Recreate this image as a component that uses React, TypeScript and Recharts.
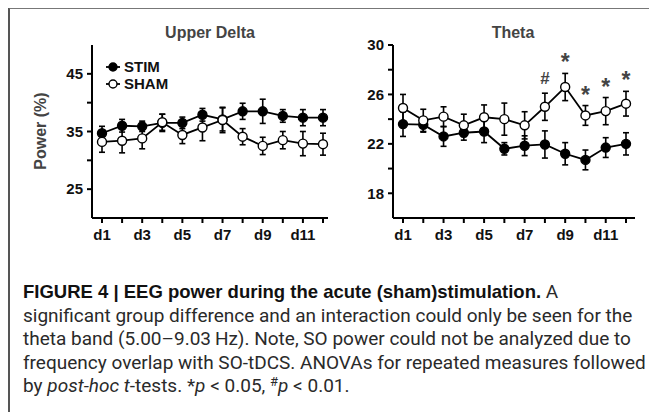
import { LineChart, Line, XAxis, YAxis, ErrorBar, LabelList } from 'recharts';

const days = ['d1', 'd2', 'd3', 'd4', 'd5', 'd6', 'd7', 'd8', 'd9', 'd10', 'd11', 'd12'];

// Upper Delta (power %)
const deltaStim = [34.7, 36.0, 35.9, 36.5, 36.5, 37.9, 37.1, 38.5, 38.5, 37.7, 37.4, 37.4];
const deltaStimErr = [1.2, 1.1, 0.9, 1.5, 1.0, 1.1, 2.0, 1.4, 2.1, 1.1, 1.4, 1.4];
const deltaSham = [33.2, 33.4, 33.8, 36.6, 34.4, 35.7, 37.0, 34.1, 32.5, 33.5, 32.9, 32.8];
const deltaShamErr = [1.8, 2.1, 1.8, 1.4, 1.5, 2.3, 2.2, 1.4, 1.5, 1.5, 2.1, 1.9];

// Theta (power %)
const thetaStim = [23.6, 23.55, 22.6, 22.9, 23.0, 21.6, 21.85, 21.95, 21.2, 20.7, 21.7, 22.0];
const thetaStimErr = [1.0, 0.6, 0.8, 0.6, 0.9, 0.5, 0.8, 1.1, 0.9, 0.8, 0.8, 0.9];
const thetaSham = [24.9, 23.9, 24.2, 23.5, 24.15, 24.0, 23.5, 25.0, 26.6, 24.3, 24.65, 25.25];
const thetaShamErr = [1.1, 0.9, 0.8, 0.9, 1.0, 1.3, 1.1, 1.1, 1.1, 0.8, 1.1, 1.0];
const thetaSig = ['', '', '', '', '', '', '', '#', '*', '*', '*', '*'];

const deltaData = days.map((d, i) => ({
  day: d,
  stim: deltaStim[i],
  stimErr: deltaStimErr[i],
  sham: deltaSham[i],
  shamErr: deltaShamErr[i],
}));

const thetaData = days.map((d, i) => ({
  day: d,
  stim: thetaStim[i],
  stimErr: thetaStimErr[i],
  sham: thetaSham[i],
  shamErr: thetaShamErr[i],
  sigTop: thetaSig[i] ? thetaSham[i] + thetaShamErr[i] : null,
  sig: thetaSig[i],
}));

const FONT = 'Arial, "Liberation Sans", Helvetica, sans-serif';
const CAPTION_FONT = 'Roboto, "Liberation Sans", sans-serif';
const oddOnly = (v: string, i: number) => (i % 2 === 0 ? v : '');
const tickStyle = { fontFamily: FONT, fontWeight: 700, fontSize: 15, fill: '#111' };
const axisLine = { stroke: '#000', strokeWidth: 2 };
const tickLine = { stroke: '#000', strokeWidth: 2 };

const SigLabel = (props: any) => {
  const { x, y, value } = props;
  if (!value || y == null) return null;
  const star = value === '*';
  return (
    <text
      x={x}
      y={star ? y - 3 : y - 9}
      textAnchor="middle"
      fontFamily={FONT}
      fontWeight={700}
      fontSize={star ? 23 : 17}
      fill="#444"
    >
      {value}
    </text>
  );
};

const titleStyle: React.CSSProperties = {
  position: 'absolute',
  fontFamily: FONT,
  fontWeight: 700,
  fontSize: 16,
  color: '#444',
  transform: 'translateX(-50%)',
  whiteSpace: 'nowrap',
};

const captionLine: React.CSSProperties = {
  whiteSpace: 'nowrap',
  height: 23.6,
  lineHeight: '23.6px',
};

function LegendItem({ filled, label, top }: { filled: boolean; label: string; top: number }) {
  return (
    <div style={{ position: 'absolute', left: 97, top, display: 'flex', alignItems: 'center' }}>
      <svg width={16} height={12}>
        <line x1={1} y1={6} x2={15} y2={6} stroke="#000" strokeWidth={1.8} />
        <circle cx={8} cy={6} r={4} fill={filled ? '#000' : '#fff'} stroke="#000" strokeWidth={1.4} />
      </svg>
      <span style={{ marginLeft: 3, fontFamily: FONT, fontWeight: 700, fontSize: 15, color: '#111' }}>{label}</span>
    </div>
  );
}

export default function App() {
  return (
    <div style={{ position: 'relative', width: 649, height: 404, overflow: 'hidden' }}>
      <div
        style={{
          position: 'absolute',
          left: 0,
          top: -1,
          width: 660,
          height: 420,
          borderLeft: '2px solid #555',
          borderTop: '2px solid #777',
          boxSizing: 'border-box',
        }}
      />
      <div style={{ ...titleStyle, left: 202, top: 16 }}>Upper Delta</div>
      <div style={{ ...titleStyle, left: 505, top: 16 }}>Theta</div>
      <div
        style={{
          position: 'absolute',
          left: 33,
          top: 123,
          transform: 'translate(-50%, -50%) rotate(-90deg)',
          fontFamily: FONT,
          fontWeight: 700,
          fontSize: 16,
          color: '#444',
          whiteSpace: 'nowrap',
        }}
      >
        Power (%)
      </div>

      <div style={{ position: 'absolute', left: 0, top: 0 }}>
        <LineChart width={340} height={260} data={deltaData} margin={{ top: 37, right: 20, bottom: 20, left: 0 }}>
          <XAxis
            dataKey="day"
            interval={0}
            tickFormatter={oddOnly}
            padding={{ left: 10, right: 5 }}
            tick={tickStyle}
            tickSize={5}
            tickMargin={6}
            axisLine={axisLine}
            tickLine={tickLine}
            height={30}
          />
          <YAxis
            type="number"
            domain={[20, 50]}
            ticks={[25, 30, 35, 40, 45]}
            tickFormatter={(v: number) => (v % 10 === 5 ? String(v) : '')}
            tick={tickStyle}
            tickSize={5}
            tickMargin={4}
            axisLine={axisLine}
            tickLine={tickLine}
            width={84}
          />
          <Line
            dataKey="stim"
            stroke="#000"
            strokeWidth={1.8}
            dot={{ r: 4.5, fill: '#000', stroke: '#000', strokeWidth: 1.4 }}
            isAnimationActive={false}
          >
            <ErrorBar dataKey="stimErr" width={3} stroke="#000" strokeWidth={1.6} />
          </Line>
          <Line
            dataKey="sham"
            stroke="#000"
            strokeWidth={1.8}
            dot={{ r: 4.5, fill: '#fff', stroke: '#000', strokeWidth: 1.4 }}
            isAnimationActive={false}
          >
            <ErrorBar dataKey="shamErr" width={3} stroke="#000" strokeWidth={1.6} />
          </Line>
        </LineChart>
      </div>

      <LegendItem filled label="STIM" top={50} />
      <LegendItem filled={false} label="SHAM" top={67} />

      <div style={{ position: 'absolute', left: 330, top: 0 }}>
        <LineChart width={320} height={260} data={thetaData} margin={{ top: 37, right: 23, bottom: 20, left: 0 }}>
          <XAxis
            dataKey="day"
            interval={0}
            tickFormatter={oddOnly}
            padding={{ left: 10, right: 9 }}
            tick={tickStyle}
            tickSize={5}
            tickMargin={6}
            axisLine={axisLine}
            tickLine={tickLine}
            height={30}
          />
          <YAxis
            type="number"
            domain={[16, 30]}
            ticks={[18, 20, 22, 24, 26, 28, 30]}
            tickFormatter={(v: number) => (v % 4 === 2 ? String(v) : '')}
            tick={tickStyle}
            tickSize={5}
            tickMargin={4}
            axisLine={axisLine}
            tickLine={tickLine}
            width={55}
          />
          <Line
            dataKey="stim"
            stroke="#000"
            strokeWidth={1.8}
            dot={{ r: 4.5, fill: '#000', stroke: '#000', strokeWidth: 1.4 }}
            isAnimationActive={false}
          >
            <ErrorBar dataKey="stimErr" width={3} stroke="#000" strokeWidth={1.6} />
          </Line>
          <Line
            dataKey="sham"
            stroke="#000"
            strokeWidth={1.8}
            dot={{ r: 4.5, fill: '#fff', stroke: '#000', strokeWidth: 1.4 }}
            isAnimationActive={false}
          >
            <ErrorBar dataKey="shamErr" width={3} stroke="#000" strokeWidth={1.6} />
          </Line>
          <Line
            dataKey="sigTop"
            stroke="none"
            dot={false}
            activeDot={false}
            connectNulls={false}
            isAnimationActive={false}
          >
            <LabelList dataKey="sig" content={<SigLabel />} />
          </Line>
        </LineChart>
      </div>

      <div
        style={{
          position: 'absolute',
          left: 15,
          top: 272,
          fontFamily: CAPTION_FONT,
          fontSize: 19,
          color: '#2a2a2a',
        }}
      >
        <div style={captionLine}>
          <b style={{ fontFamily: '"Liberation Sans", Arial, sans-serif', fontSize: 18.5, color: '#111' }}>
            FIGURE 4 | EEG power during the acute (sham)stimulation.
          </b>{' '}
          A
        </div>
        <div style={captionLine}>significant group difference and an interaction could only be seen for the</div>
        <div style={captionLine}>theta band (5.00–9.03&#8201;Hz). Note, SO power could not be analyzed due to</div>
        <div style={captionLine}>frequency overlap with SO-tDCS. ANOVAs for repeated measures followed</div>
        <div style={captionLine}>
          by <i>post-hoc t</i>-tests. *<i>p</i> &lt; 0.05,{' '}
          <span style={{ fontSize: 13, position: 'relative', top: -6 }}>#</span>
          <i>p</i> &lt; 0.01.
        </div>
      </div>
    </div>
  );
}
